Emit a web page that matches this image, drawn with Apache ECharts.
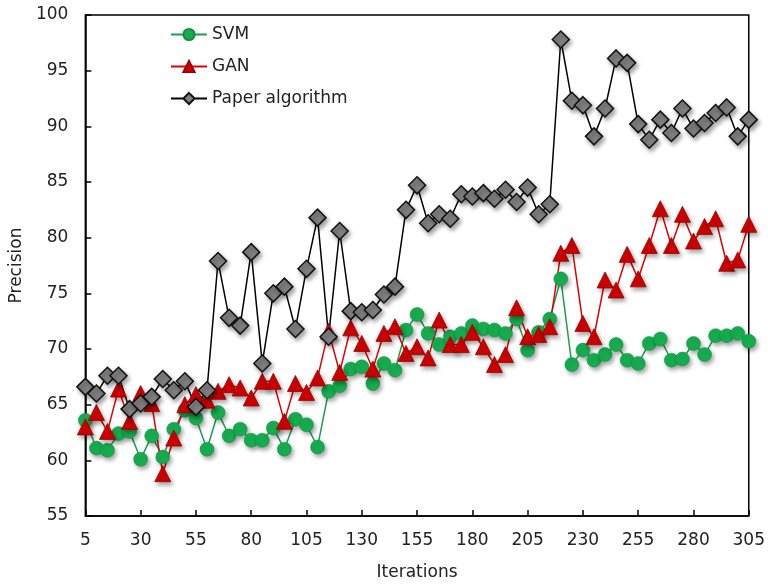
<!DOCTYPE html>
<html>
<head>
<meta charset="utf-8">
<script src="https://cdn.jsdelivr.net/npm/echarts@6/dist/echarts.min.js"></script>
<style>
  html, body { margin: 0; padding: 0; background: #fff; }
  #chart { width: 768px; height: 586px; }
</style>
</head>
<body>
<div id="chart"></div>
<script>
var iterations = [5, 10, 15, 20, 25, 30, 35, 40, 45, 50, 55, 60, 65, 70, 75, 80, 85, 90, 95, 100,
  105, 110, 115, 120, 125, 130, 135, 140, 145, 150, 155, 160, 165, 170, 175, 180, 185, 190, 195, 200,
  205, 210, 215, 220, 225, 230, 235, 240, 245, 250, 255, 260, 265, 270, 275, 280, 285, 290, 295, 300, 305];

var svmData = [63.6, 61.1, 60.9, 62.4, 62.6, 60.1, 62.2, 60.3, 62.8, 64.5, 63.8, 61.0, 64.3, 62.2, 62.8, 61.8, 61.8, 62.9, 61.0, 63.7,
  63.2, 61.2, 66.2, 66.7, 68.2, 68.4, 66.9, 68.7, 68.1, 71.7, 73.1, 71.4, 70.4, 71.1, 71.4, 72.1, 71.8, 71.7, 71.4, 72.7,
  69.9, 71.5, 72.7, 76.3, 68.6, 69.9, 69.0, 69.5, 70.4, 69.0, 68.7, 70.5, 70.9, 69.0, 69.1, 70.5, 69.5, 71.2, 71.2, 71.4, 70.7];

var ganData = [63.0, 64.3, 62.6, 66.4, 63.5, 66.0, 65.1, 58.8, 62.0, 65.0, 65.9, 65.4, 66.2, 66.8, 66.5, 65.6, 67.1, 67.1, 63.5, 66.9,
  66.1, 67.4, 71.6, 67.9, 71.9, 70.5, 68.2, 71.4, 72.0, 69.6, 70.2, 69.2, 72.6, 70.4, 70.4, 71.5, 70.2, 68.6, 69.5, 73.7,
  71.1, 71.3, 72.0, 78.6, 79.3, 72.3, 71.1, 76.2, 75.3, 78.5, 76.3, 79.3, 82.6, 79.3, 82.1, 79.7, 81.0, 81.7, 77.7, 78.0, 81.2];

var paperData = [66.6, 66.0, 67.6, 67.6, 64.6, 65.1, 65.7, 67.3, 66.3, 67.1, 64.8, 66.3, 77.9, 72.8, 72.1, 78.7, 68.7, 75.0, 75.6, 71.8,
  77.2, 81.8, 71.1, 80.6, 73.4, 73.3, 73.5, 74.9, 75.6, 82.5, 84.7, 81.3, 82.1, 81.7, 83.9, 83.7, 84.0, 83.5, 84.3, 83.2,
  84.5, 82.1, 83.0, 97.8, 92.3, 91.9, 89.1, 91.6, 96.1, 95.7, 90.2, 88.8, 90.6, 89.4, 91.6, 89.8, 90.3, 91.2, 91.7, 89.1, 90.6];

var seriesNames = ['SVM', 'GAN', 'Paper algorithm'];

var FONT = 'DejaVu Sans';
var shadow = {
  shadowBlur: 4,
  shadowColor: 'rgba(0,0,0,0.35)',
  shadowOffsetX: 2,
  shadowOffsetY: 3
};

function makeSeries(name, data, lineColor, symbol, size, fill, border, bw) {
  return {
    name: name,
    type: 'line',
    data: data,
    symbol: symbol,
    symbolSize: size,
    showAllSymbol: true,
    animation: false,
    lineStyle: { color: lineColor, width: 1.5 },
    itemStyle: Object.assign({ color: fill, borderColor: border, borderWidth: bw }, shadow),
    emphasis: { disabled: true }
  };
}

var chart = echarts.init(document.getElementById('chart'));

var option = {
  backgroundColor: '#fff',
  textStyle: { fontFamily: FONT },
  grid: {
    left: 84, right: 18, top: 15, bottom: 66,
    show: true,
    borderColor: '#000',
    borderWidth: 1.5
  },
  legend: {
    orient: 'vertical',
    left: 165,
    top: 21,
    itemWidth: 36,
    itemHeight: 14,
    itemGap: 15,
    textStyle: { fontFamily: FONT, fontSize: 17, color: '#222' },
    data: seriesNames
  },
  xAxis: {
    type: 'category',
    data: iterations,
    boundaryGap: false,
    name: 'Iterations',
    nameLocation: 'middle',
    nameGap: 48,
    nameTextStyle: { fontFamily: FONT, fontSize: 17, color: '#222' },
    axisLine: { lineStyle: { color: '#000', width: 1.5 } },
    axisTick: { inside: true, length: 6, interval: 4, lineStyle: { color: '#000', width: 1.5 } },
    axisLabel: { interval: 4, fontFamily: FONT, fontSize: 17, color: '#222', margin: 16 },
    splitLine: { show: false }
  },
  yAxis: {
    type: 'value',
    min: 55,
    max: 100,
    interval: 5,
    name: 'Precision',
    nameLocation: 'middle',
    nameGap: 60,
    nameTextStyle: { fontFamily: FONT, fontSize: 17, color: '#222' },
    axisLine: { show: true, lineStyle: { color: '#000', width: 1.5 } },
    axisTick: { show: true, inside: true, length: 6, lineStyle: { color: '#000', width: 1.5 } },
    axisLabel: { fontFamily: FONT, fontSize: 17, color: '#222', margin: 17 },
    splitLine: { show: false }
  },
  series: [
    makeSeries(seriesNames[0], svmData, '#1a9e50', 'circle', 14, '#16ad4f', '#109040', 0.5),
    makeSeries(seriesNames[1], ganData, '#e00000', 'triangle', 16, '#d00000', '#a00000', 0.8),
    makeSeries(seriesNames[2], paperData, '#000000', 'diamond', 17, '#808080', '#111111', 1.5)
  ]
};

chart.setOption(option);
</script>
</body>
</html>
